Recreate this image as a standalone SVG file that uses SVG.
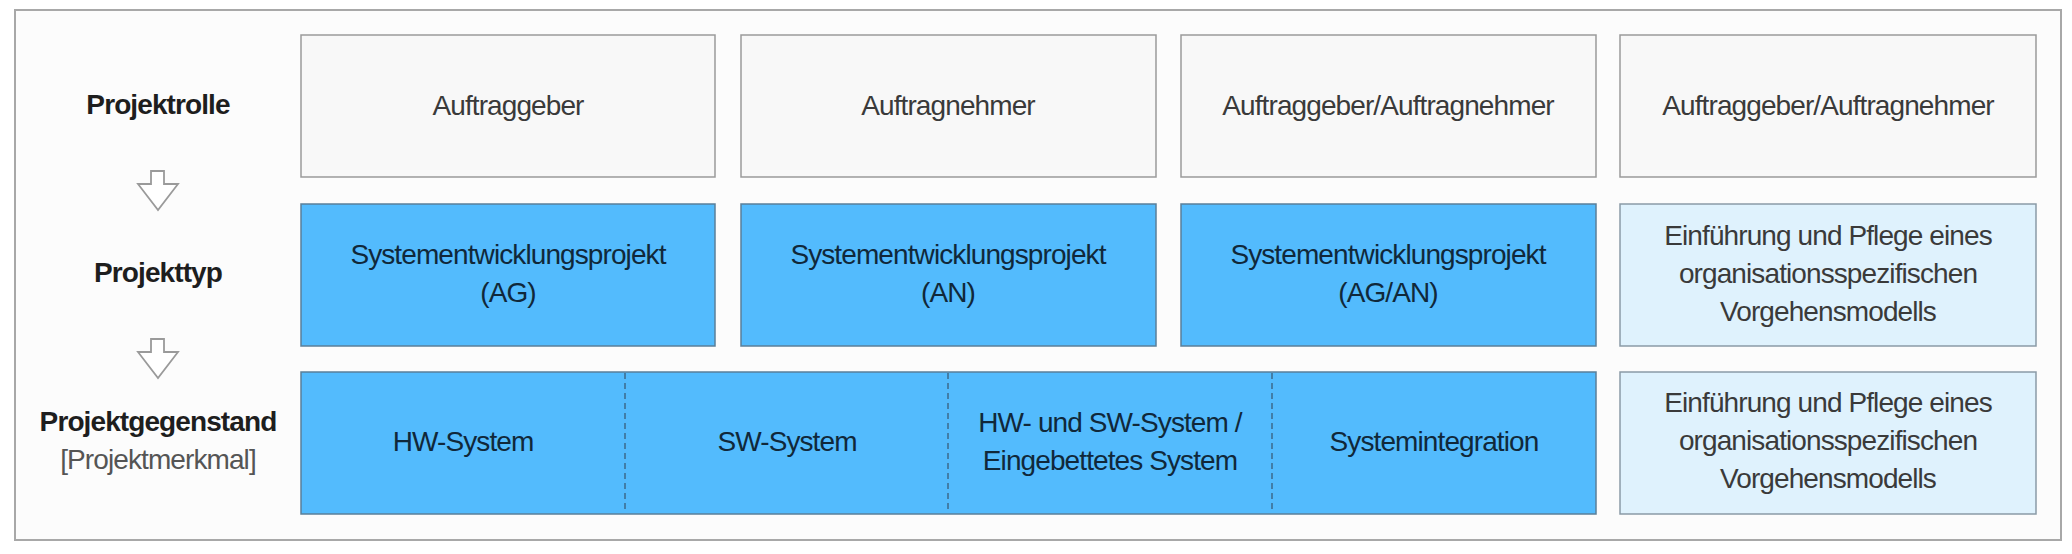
<svg xmlns="http://www.w3.org/2000/svg" width="2072" height="554" viewBox="0 0 2072 554">
<style>
.frame{fill:#fcfcfc;stroke:#a8a8a8;stroke-width:2}
.role{fill:#f8f8f8;stroke:#9a9a9a;stroke-width:1.5}
.blue{fill:#53bbfd;stroke:#5a7f99;stroke-width:1.5}
.light{fill:#dff2fd;stroke:#8a9aa6;stroke-width:1.5}
.div{stroke:#3d6b8c;stroke-width:1.5;stroke-dasharray:6 4}
.arr{fill:#ffffff;stroke:#9a9a9a;stroke-width:1.8;stroke-linejoin:miter}
text{font-family:"Liberation Sans",Arial,sans-serif;font-size:28px;letter-spacing:-0.9px;text-anchor:middle}
.lab{font-weight:bold;fill:#1e1e1e;letter-spacing:-0.9px}
.sub{fill:#555555}
.t1{fill:#3a3a3a}
.tb{fill:#10283a}
.tl{fill:#3a3a3a}
</style>
<rect class="frame" x="15" y="10" width="2046" height="530"/>
<g id="labels">
<text class="lab" x="158" y="114">Projektrolle</text>
<text class="lab" x="158" y="282">Projekttyp</text>
<text class="lab" x="158" y="431">Projektgegenstand</text>
<text class="sub" x="158" y="469">[Projektmerkmal]</text>
</g>
<g id="connectors">
<polygon class="arr" points="151,171 164,171 164,184 178,184 158,210 138,184 151,184"/>
<polygon class="arr" points="151,339 164,339 164,352 178,352 158,378 138,352 151,352"/>
</g>
<g id="role-ag">
<rect class="role" x="301" y="35" width="414" height="142"/>
<text class="t1" x="508" y="115">Auftraggeber</text>
</g>
<g id="role-an">
<rect class="role" x="741" y="35" width="415" height="142"/>
<text class="t1" x="948" y="115">Auftragnehmer</text>
</g>
<g id="role-agan">
<rect class="role" x="1181" y="35" width="415" height="142"/>
<text class="t1" x="1388" y="115">Auftraggeber/Auftragnehmer</text>
</g>
<g id="role-agan2">
<rect class="role" x="1620" y="35" width="416" height="142"/>
<text class="t1" x="1828" y="115">Auftraggeber/Auftragnehmer</text>
</g>
<g id="typ-ag">
<rect class="blue" x="301" y="204" width="414" height="142"/>
<text class="tb" x="508" y="264">Systementwicklungsprojekt</text>
<text class="tb" x="508" y="302">(AG)</text>
</g>
<g id="typ-an">
<rect class="blue" x="741" y="204" width="415" height="142"/>
<text class="tb" x="948" y="264">Systementwicklungsprojekt</text>
<text class="tb" x="948" y="302">(AN)</text>
</g>
<g id="typ-agan">
<rect class="blue" x="1181" y="204" width="415" height="142"/>
<text class="tb" x="1388" y="264">Systementwicklungsprojekt</text>
<text class="tb" x="1388" y="302">(AG/AN)</text>
</g>
<g id="typ-vm">
<rect class="light" x="1620" y="204" width="416" height="142"/>
<text class="tl" x="1828" y="245">Einführung und Pflege eines</text>
<text class="tl" x="1828" y="283">organisationsspezifischen</text>
<text class="tl" x="1828" y="321">Vorgehensmodells</text>
</g>
<g id="gegenstand">
<rect class="blue" x="301" y="372" width="1295" height="142"/>
<line class="div" x1="625" y1="373" x2="625" y2="513"/>
<line class="div" x1="948" y1="373" x2="948" y2="513"/>
<line class="div" x1="1272" y1="373" x2="1272" y2="513"/>
<text class="tb" x="463" y="451">HW-System</text>
<text class="tb" x="787" y="451">SW-System</text>
<text class="tb" x="1110" y="432">HW- und SW-System /</text>
<text class="tb" x="1110" y="470">Eingebettetes System</text>
<text class="tb" x="1434" y="451">Systemintegration</text>
</g>
<g id="gegenstand-vm">
<rect class="light" x="1620" y="372" width="416" height="142"/>
<text class="tl" x="1828" y="412">Einführung und Pflege eines</text>
<text class="tl" x="1828" y="450">organisationsspezifischen</text>
<text class="tl" x="1828" y="488">Vorgehensmodells</text>
</g>
</svg>
